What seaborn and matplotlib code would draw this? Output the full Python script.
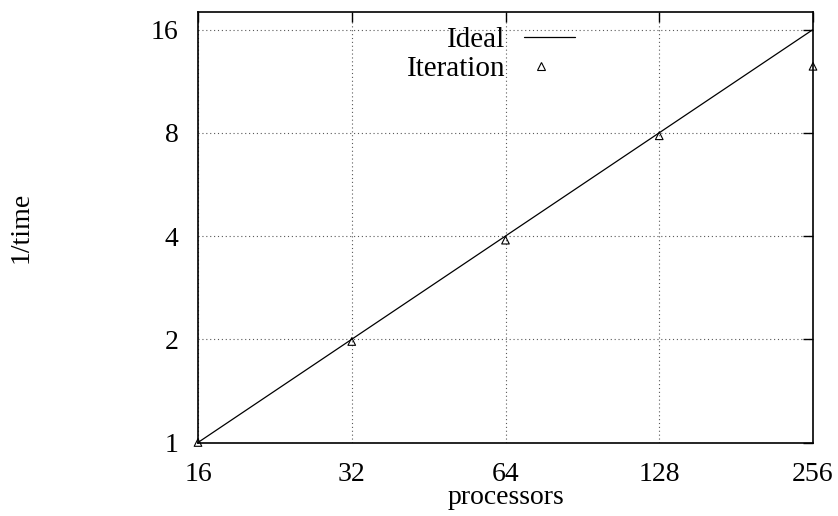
import matplotlib
matplotlib.use("Agg")
import matplotlib.pyplot as plt
from matplotlib.ticker import FixedLocator, FixedFormatter, NullLocator
from matplotlib.legend_handler import HandlerLine2D
from matplotlib.lines import Line2D
import seaborn as sns
import pandas as pd

# Scaling data: processor counts vs. inverse run time
processors = [16, 32, 64, 128, 256]
ideal = [1, 2, 4, 8, 16]
iteration = [1.0, 1.97, 3.89, 7.84, 12.5]
x_ticks = [16, 32, 64, 128, 256]
y_ticks = [1, 2, 4, 8, 16]

sns.set_theme(style="white")
plt.rcParams["font.family"] = ["Liberation Serif", "DejaVu Serif"]
plt.rcParams["text.color"] = "black"
plt.rcParams["axes.labelcolor"] = "black"

df = pd.DataFrame({"processors": processors, "ideal": ideal, "iteration": iteration})

fig = plt.figure(figsize=(8.38, 5.16), dpi=100)
ax = fig.add_axes([198 / 838, 1 - 442.5 / 516, (813 - 198) / 838, (442.5 - 12) / 516])

sns.lineplot(data=df, x="processors", y="ideal", ax=ax, color="black",
             linewidth=0.9, legend=False)
sns.scatterplot(data=df, x="processors", y="iteration", ax=ax, marker="^",
                s=30, facecolor="none", edgecolor="black", linewidth=0.8,
                legend=False, clip_on=False, zorder=5)

ax.set_xscale("log", base=2)
ax.set_yscale("log", base=2)
ax.set_xlim(16, 256)
ax.set_ylim(1, 18)

ax.xaxis.set_major_locator(FixedLocator(x_ticks))
ax.xaxis.set_major_formatter(FixedFormatter([str(v) for v in x_ticks]))
ax.yaxis.set_major_locator(FixedLocator(y_ticks))
ax.yaxis.set_major_formatter(FixedFormatter([str(v) for v in y_ticks]))
ax.xaxis.set_minor_locator(NullLocator())
ax.yaxis.set_minor_locator(NullLocator())

ax.grid(True, which="major", color="0.35", linestyle=(0, (1, 2.5)), linewidth=0.8)
ax.tick_params(axis="both", which="major", direction="in", length=7, width=1,
               labelsize=20, top=True, right=True, pad=14, colors="black")
for sp in ax.spines.values():
    sp.set_color("black")
    sp.set_linewidth(1.2)

ax.set_xlabel("processors", fontsize=20, color="black")
ax.set_ylabel("1/time", fontsize=20, color="black")
ax.xaxis.set_label_coords(0.5, -0.099)
ax.yaxis.set_label_coords(-0.268, 0.5)


class LeftMarkerHandler(HandlerLine2D):
    """Place the single legend marker a third of the way along the sample."""

    def get_xdata(self, legend, xdescent, ydescent, width, height, fontsize):
        # with one point the marker sits at the middle of xdata
        xdata = [-xdescent, -xdescent + width * 0.66]
        return xdata, xdata


ideal_handle = Line2D([], [], color="black", linewidth=0.9)
iter_handle = Line2D([], [], color="black", marker="^", linestyle="none",
                     markerfacecolor="none", markeredgecolor="black",
                     markersize=5.5, markeredgewidth=0.8)

leg = ax.legend([ideal_handle, iter_handle], ["Ideal", "Iteration"],
                handler_map={iter_handle: LeftMarkerHandler()},
                loc="upper left", bbox_to_anchor=(0.339, 0.966), frameon=False,
                markerfirst=False, fontsize=21, handlelength=1.75,
                handletextpad=0.65, labelspacing=0.08, borderpad=0,
                borderaxespad=0)
for t in leg.get_texts():
    t.set_ha("right")
    t.set_color("black")

fig.savefig("out.png", dpi=100)
